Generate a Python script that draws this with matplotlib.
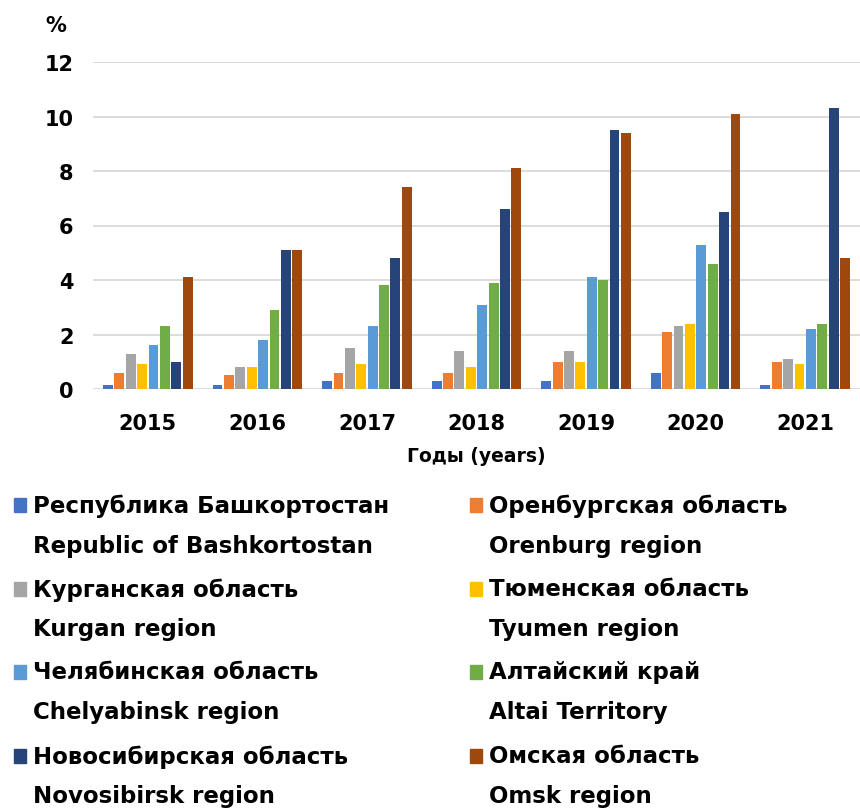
import matplotlib
matplotlib.use("Agg")
import matplotlib.pyplot as plt
from matplotlib.patches import Rectangle
import numpy as np

plt.rcParams['font.family'] = ['DejaVu Sans']
plt.rcParams['font.weight'] = 'bold'

years = ['2015', '2016', '2017', '2018', '2019', '2020', '2021']
regions_ru = ['Республика Башкортостан', 'Оренбургская область', 'Курганская область',
              'Тюменская область', 'Челябинская область', 'Алтайский край',
              'Новосибирская область', 'Омская область']
regions_en = ['Republic of Bashkortostan', 'Orenburg region', 'Kurgan region',
              'Tyumen region', 'Chelyabinsk region', 'Altai Territory',
              'Novosibirsk region', 'Omsk region']
colors = ['#4472C4', '#ED7D31', '#A5A5A5', '#FFC000', '#5B9BD5', '#70AD47', '#264478', '#9E480E']

# значения по регионам (в %), по годам 2015-2021
bashkortostan = [0.15, 0.15, 0.3, 0.3, 0.3, 0.6, 0.15]
orenburg = [0.6, 0.5, 0.6, 0.6, 1.0, 2.1, 1.0]
kurgan = [1.3, 0.8, 1.5, 1.4, 1.4, 2.3, 1.1]
tyumen = [0.9, 0.8, 0.9, 0.8, 1.0, 2.4, 0.9]
chelyabinsk = [1.6, 1.8, 2.3, 3.1, 4.1, 5.3, 2.2]
altai = [2.3, 2.9, 3.8, 3.9, 4.0, 4.6, 2.4]
novosibirsk = [1.0, 5.1, 4.8, 6.6, 9.5, 6.5, 10.3]
omsk = [4.1, 5.1, 7.4, 8.1, 9.4, 10.1, 4.8]

series = [bashkortostan, orenburg, kurgan, tyumen, chelyabinsk, altai, novosibirsk, omsk]

fig = plt.figure(figsize=(8.6, 8.12), dpi=100)
ax = fig.add_axes([93 / 860, 1 - 390 / 812, 1 - 93 / 860, (390 - 63) / 812])

x = np.arange(len(years))
step = 0.104
width = 0.09
for i, vals in enumerate(series):
    ax.bar(x + (i - 3.5) * step, vals, width, color=colors[i], zorder=3)

ax.set_xlim(-0.5, len(years) - 0.5)
ax.set_ylim(0, 12)
ax.set_yticks(range(0, 13, 2))
ax.set_xticks(x)
ax.set_xticklabels(years)
ax.tick_params(length=0, labelsize=15, pad=17)
ax.tick_params(axis='y', pad=14)
ax.grid(axis='y', color='#d9d9d9', linewidth=1.3, zorder=0)
for s in ax.spines.values():
    s.set_visible(False)
ax.set_xlabel('Годы (years)', fontsize=13.5, fontweight='bold', labelpad=10)

fig.text(56 / 860, 1 - 26 / 812, '%', fontsize=15, ha='center', va='center')

# легенда вручную
col_x = [14, 470]
row_y = [506, 590, 673, 757]
for i in range(len(series)):
    cx = col_x[i % 2]
    ry = row_y[i // 2]
    fig.patches.append(Rectangle((cx / 860, 1 - (ry + 7) / 812), 12 / 860, 14 / 812,
                                 transform=fig.transFigure, color=colors[i]))
    fig.text((cx + 19) / 860, 1 - ry / 812, regions_ru[i], fontsize=16.5, va='center')
    fig.text((cx + 19) / 860, 1 - (ry + 40) / 812, regions_en[i], fontsize=16.5, va='center')

fig.savefig('out.png', dpi=100)
